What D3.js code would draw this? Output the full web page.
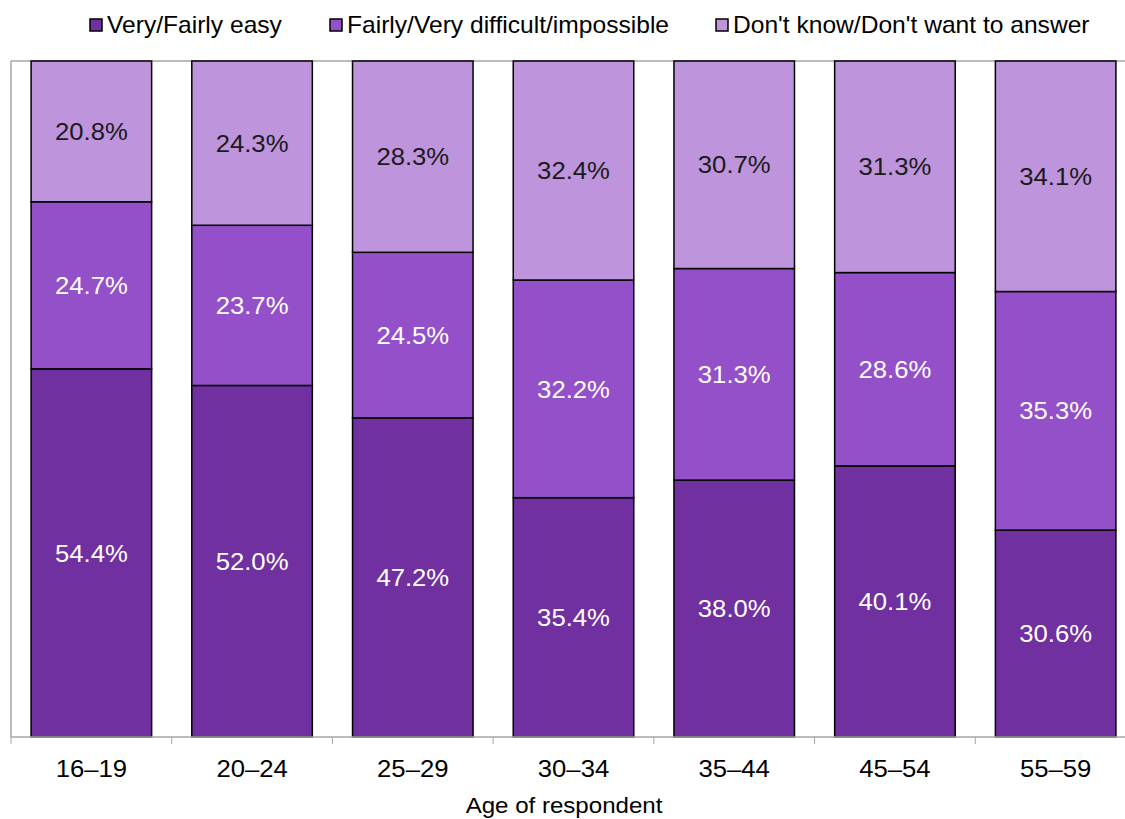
<!DOCTYPE html>
<html>
<head>
<meta charset="utf-8">
<script src="https://cdn.jsdelivr.net/npm/d3@7"></script>
<style>
  html, body { margin: 0; padding: 0; background: #fff; }
  svg { display: block; font-family: "Liberation Sans", Arial, sans-serif; }
</style>
</head>
<body>
<svg id="chart" width="1125" height="819"></svg>
<script>
// Age groups along the x axis
const ageGroups = ["16–19", "20–24", "25–29", "30–34", "35–44", "45–54", "55–59"];

// Share of respondents per answer (percent)
const easy      = [54.4, 52.0, 47.2, 35.4, 38.0, 40.1, 30.6];
const difficult = [24.7, 23.7, 24.5, 32.2, 31.3, 28.6, 35.3];
const dontKnow  = [20.8, 24.3, 28.3, 32.4, 30.7, 31.3, 34.1];

const seriesNames = ["Very/Fairly easy", "Fairly/Very difficult/impossible", "Don't know/Don't want to answer"];
const seriesKeys = ["easy", "difficult", "dontKnow"];
const seriesColors = ["#7030A0", "#9450C8", "#BE94DC"];
const labelColors = ["#ffffff", "#ffffff", "#1a1a1a"];

// Text is drawn slightly wide
const stretch = 1.07;

const rows = ageGroups.map((g, i) => ({
  group: g, easy: easy[i], difficult: difficult[i], dontKnow: dontKnow[i]
}));

const svg = d3.select("#chart");
const margin = { left: 11, top: 61, bottom: 82 };
const plotW = 1125; // plot runs past the right edge
const plotH = 819 - margin.top - margin.bottom;

const x = d3.scaleBand()
  .domain(ageGroups)
  .range([margin.left, margin.left + plotW])
  .paddingInner(0.25)
  .paddingOuter(0.125);

const y = d3.scaleLinear()
  .domain([0, 1])
  .range([margin.top + plotH, margin.top]);

const stacked = d3.stack()
  .keys(seriesKeys)
  .offset(d3.stackOffsetExpand)(rows);

// Plot frame (top and left edges)
const frame = svg.append("g");
frame.append("line")
  .attr("x1", margin.left).attr("x2", margin.left + plotW)
  .attr("y1", margin.top).attr("y2", margin.top)
  .attr("stroke", "#a6a6a6").attr("stroke-width", 1.5);
frame.append("line")
  .attr("x1", margin.left).attr("x2", margin.left)
  .attr("y1", margin.top).attr("y2", margin.top + plotH)
  .attr("stroke", "#a6a6a6").attr("stroke-width", 1.5);

// Stacked bars
const layers = svg.append("g").selectAll("g")
  .data(stacked)
  .join("g")
  .attr("fill", (d, i) => seriesColors[i]);

layers.selectAll("rect")
  .data(d => d)
  .join("rect")
  .attr("x", d => x(d.data.group))
  .attr("width", x.bandwidth())
  .attr("y", d => y(d[1]))
  .attr("height", d => y(d[0]) - y(d[1]))
  .attr("stroke", "#000")
  .attr("stroke-width", 1.5);

// Value labels centred in each segment
stacked.forEach((layer, si) => {
  svg.append("g").selectAll("text")
    .data(layer)
    .join("text")
    .attr("transform", d => `translate(${x(d.data.group) + x.bandwidth() / 2},${(y(d[0]) + y(d[1])) / 2}) scale(${stretch},1)`)
    .attr("dy", "0.36em")
    .attr("text-anchor", "middle")
    .attr("font-size", 24)
    .attr("fill", labelColors[si])
    .text(d => d.data[seriesKeys[si]].toFixed(1) + "%");
});

// X axis with ticks between categories
const xAxisY = margin.top + plotH;
const axis = svg.append("g");
axis.append("line")
  .attr("x1", margin.left).attr("x2", margin.left + plotW)
  .attr("y1", xAxisY).attr("y2", xAxisY)
  .attr("stroke", "#a6a6a6").attr("stroke-width", 1.5);
const boundaries = d3.range(ageGroups.length + 1).map(i => margin.left + i * plotW / ageGroups.length);
axis.selectAll("line.tick")
  .data(boundaries)
  .join("line")
  .attr("class", "tick")
  .attr("x1", d => d).attr("x2", d => d)
  .attr("y1", xAxisY).attr("y2", xAxisY + 7)
  .attr("stroke", "#a6a6a6").attr("stroke-width", 1);
axis.selectAll("text")
  .data(ageGroups)
  .join("text")
  .attr("transform", d => `translate(${x(d) + x.bandwidth() / 2},777) scale(${stretch},1)`)
  .attr("text-anchor", "middle")
  .attr("font-size", 24)
  .attr("fill", "#000")
  .text(d => d);

svg.append("text")
  .attr("transform", `translate(564,813) scale(${stretch},1)`)
  .attr("text-anchor", "middle")
  .attr("font-size", 22.5)
  .attr("fill", "#000")
  .text("Age of respondent");

// Legend
const legendX = [90, 330, 716];
const legend = svg.append("g").selectAll("g")
  .data(seriesNames)
  .join("g")
  .attr("transform", (d, i) => `translate(${legendX[i]},19)`);
legend.append("rect")
  .attr("width", 12).attr("height", 12)
  .attr("fill", (d, i) => seriesColors[i])
  .attr("stroke", "#000").attr("stroke-width", 1.5);
legend.append("text")
  .attr("transform", `translate(17,6) scale(${stretch},1)`)
  .attr("dy", "0.36em")
  .attr("font-size", 23)
  .attr("fill", "#000")
  .text(d => d);
</script>
</body>
</html>
